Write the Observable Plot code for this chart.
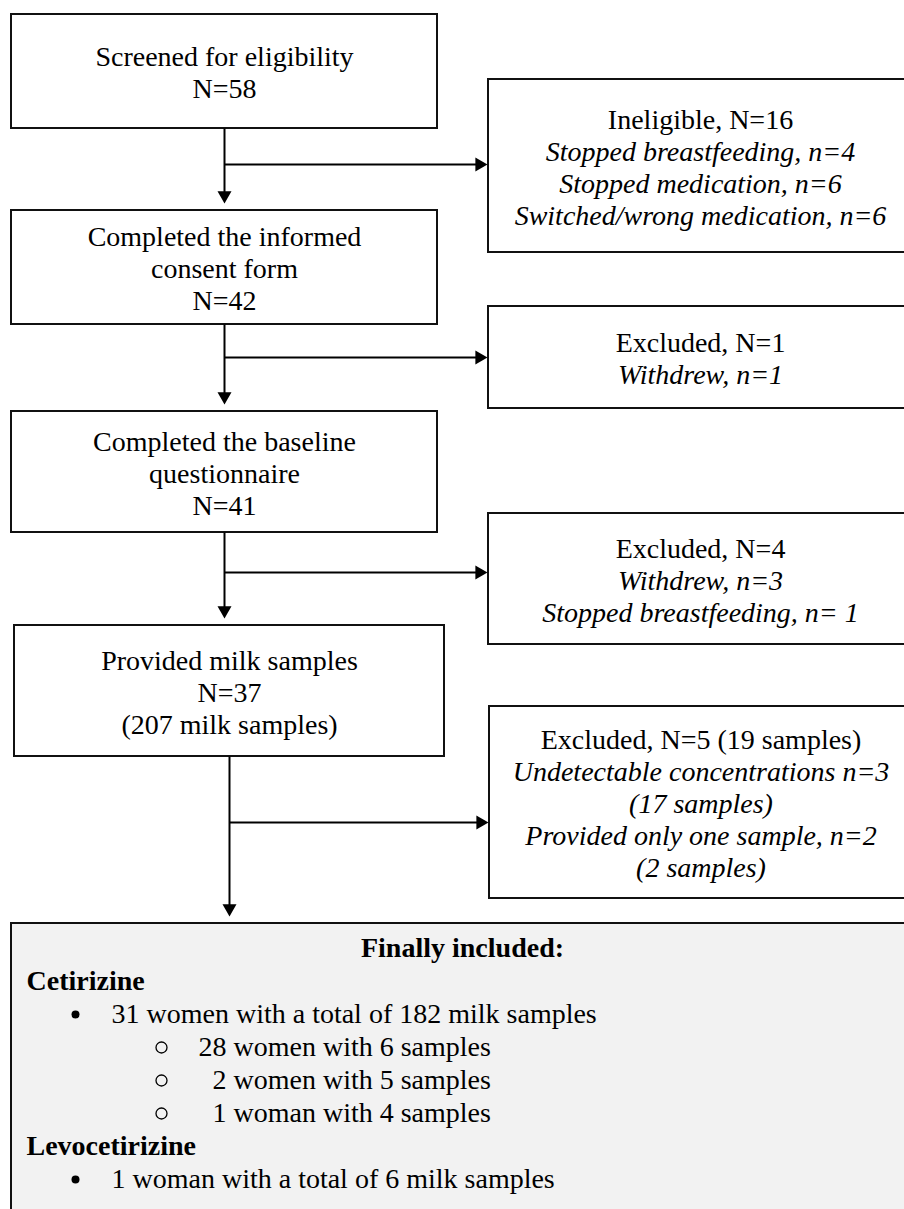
<!DOCTYPE html>
<html>
<head>
<meta charset="utf-8">
<script src="https://cdn.jsdelivr.net/npm/d3@7"></script>
<script src="https://cdn.jsdelivr.net/npm/@observablehq/plot@0.6"></script>
<style>
  html, body { margin: 0; padding: 0; background: #fff; overflow: hidden; }
  svg { overflow: hidden; display: block; }
</style>
</head>
<body>
<div id="chart"></div>
<script>
// ---------- DATA (texts and counts) ----------
const mainStepLines = [
  ["Screened for eligibility"],
  ["Completed the informed", "consent form"],
  ["Completed the baseline", "questionnaire"],
  ["Provided milk samples"]
];
const mainN = [58, 42, 41, 37];
const mainExtra = [null, null, null, "(207 milk samples)"];

const exclusionHeads = ["Ineligible, N=16", "Excluded, N=1", "Excluded, N=4", "Excluded, N=5 (19 samples)"];
const exclusionReasons = [
  ["Stopped breastfeeding, n=4", "Stopped medication, n=6", "Switched/wrong medication, n=6"],
  ["Withdrew, n=1"],
  ["Withdrew, n=3", "Stopped breastfeeding, n= 1"],
  ["Undetectable concentrations n=3", "(17 samples)", "Provided only one sample, n=2", "(2 samples)"]
];

const finalHeader = "Finally included:";
const drugs = ["Cetirizine", "Levocetirizine"];
const drugTotals = ["31 women with a total of 182 milk samples", "1 woman with a total of 6 milk samples"];
const subCounts = [28, 2, 1];
const subRest = ["women with 6 samples", "women with 5 samples", "woman with 4 samples"];

// ---------- LAYOUT (positions in pixels) ----------
const W = 904, H = 1209;
const mainBoxes = [
  {x1: 11, x2: 437, y1: 14, y2: 128},
  {x1: 11, x2: 437, y1: 210, y2: 324},
  {x1: 11, x2: 437, y1: 411, y2: 532},
  {x1: 14, x2: 444, y1: 625, y2: 756}
];
const sideBoxes = [
  {x1: 488, x2: 912, y1: 79, y2: 252},
  {x1: 488, x2: 912, y1: 306, y2: 408},
  {x1: 488, x2: 912, y1: 513, y2: 644},
  {x1: 489, x2: 912, y1: 706, y2: 898}
];
const branchY = [164, 357, 572, 822];
const finalBox = {x1: 11, x2: 913, y1: 923, y2: 1220};
const lineH = 32;
const font = "'Liberation Serif', 'Times New Roman', serif";
const fs = 28;

// ---------- build marks ----------
const textRows = [];
function addLines(box, lines) {
  const cx = (box.x1 + box.x2) / 2;
  const cy = (box.y1 + box.y2) / 2 + 2;
  const n = lines.length;
  lines.forEach((l, i) => textRows.push({x: cx, y: cy + (i - (n - 1) / 2) * lineH, text: l.text, italic: l.italic}));
}
mainBoxes.forEach((b, i) => {
  const lines = mainStepLines[i].map(t => ({text: t, italic: false}));
  lines.push({text: "N=" + mainN[i], italic: false});
  if (mainExtra[i]) lines.push({text: mainExtra[i], italic: false});
  addLines(b, lines);
});
sideBoxes.forEach((b, i) => {
  const lines = [{text: exclusionHeads[i], italic: false}]
    .concat(exclusionReasons[i].map(t => ({text: t, italic: true})));
  addLines(b, lines);
});

// arrows
const shafts = [], heads = [];
const headR = 5.2;
const tipOff = 2 * Math.sqrt((Math.PI * headR * headR) / (Math.sqrt(3) * 3));
const nextTops = [mainBoxes[1], mainBoxes[2], mainBoxes[3], finalBox];
mainBoxes.forEach((b, i) => {
  const cx = (b.x1 + b.x2) / 2;
  const tipY = nextTops[i].y1 - 7;
  shafts.push({x1: cx, y1: b.y2, x2: cx, y2: tipY - tipOff / 2});
  heads.push({x: cx, y: tipY - tipOff, rot: 180});
  const tipX = sideBoxes[i].x1 - 1;
  shafts.push({x1: cx, y1: branchY[i], x2: tipX - tipOff / 2, y2: branchY[i]});
  heads.push({x: tipX - tipOff, y: branchY[i], rot: 90});
});

// final box text
const fy0 = finalBox.y1 + 25, fStep = 33;
const finalRows = {
  header: [{x: (finalBox.x1 + finalBox.x2) / 2, y: fy0, text: finalHeader}],
  drugs: [{x: 26, y: fy0 + fStep, text: drugs[0]}, {x: 26, y: fy0 + 6 * fStep, text: drugs[1]}],
  bullets: [{x: 75, y: fy0 + 2 * fStep}, {x: 75, y: fy0 + 7 * fStep}],
  totals: [{x: 111, y: fy0 + 2 * fStep, text: drugTotals[0]}, {x: 111, y: fy0 + 7 * fStep, text: drugTotals[1]}],
  subs: subCounts.map((c, i) => ({x: 161, xn: 226, xr: 233, y: fy0 + (3 + i) * fStep, count: String(c), rest: subRest[i]}))
};

const allBoxes = mainBoxes.map(b => ({...b, fill: "#ffffff"}))
  .concat(sideBoxes.map(b => ({...b, fill: "#ffffff"})))
  .concat([{...finalBox, fill: "#f2f2f2"}]);

const chart = Plot.plot({
  width: W, height: H,
  margin: 0,
  x: {domain: [0, W], range: [0, W], axis: null},
  y: {domain: [0, H], range: [0, H], axis: null},
  style: {background: "#fff"},
  marks: [
    Plot.rect(allBoxes, {x1: "x1", x2: "x2", y1: "y1", y2: "y2", fill: d => d.fill, stroke: "#111", strokeWidth: 2, clip: true}),
    Plot.link(shafts, {x1: "x1", y1: "y1", x2: "x2", y2: "y2", stroke: "#000", strokeWidth: 2}),
    Plot.dot(heads, {x: "x", y: "y", symbol: "triangle", r: headR, fill: "#000", stroke: null, rotate: "rot"}),
    Plot.text(textRows.filter(d => !d.italic), {x: "x", y: "y", text: "text", fontFamily: font, fontSize: fs, fill: "#000", textAnchor: "middle", lineAnchor: "middle"}),
    Plot.text(textRows.filter(d => d.italic), {x: "x", y: "y", text: "text", fontFamily: font, fontSize: fs, fontStyle: "italic", fill: "#000", textAnchor: "middle", lineAnchor: "middle"}),
    Plot.text(finalRows.header, {x: "x", y: "y", text: "text", fontFamily: font, fontSize: fs, fontWeight: "bold", fill: "#000", textAnchor: "middle", lineAnchor: "middle"}),
    Plot.text(finalRows.drugs, {x: "x", y: "y", text: "text", fontFamily: font, fontSize: fs, fontWeight: "bold", fill: "#000", textAnchor: "start", lineAnchor: "middle"}),
    Plot.dot(finalRows.bullets, {x: "x", y: "y", r: 4, fill: "#000", stroke: null}),
    Plot.text(finalRows.totals, {x: "x", y: "y", text: "text", fontFamily: font, fontSize: fs, fill: "#000", textAnchor: "start", lineAnchor: "middle"}),
    Plot.dot(finalRows.subs, {x: "x", y: "y", r: 5.5, fill: "none", stroke: "#000", strokeWidth: 1.3}),
    Plot.text(finalRows.subs, {x: "xn", y: "y", text: "count", fontFamily: font, fontSize: fs, fill: "#000", textAnchor: "end", lineAnchor: "middle"}),
    Plot.text(finalRows.subs, {x: "xr", y: "y", text: "rest", fontFamily: font, fontSize: fs, fill: "#000", textAnchor: "start", lineAnchor: "middle"})
  ]
});
document.getElementById("chart").appendChild(chart);
</script>
</body>
</html>
